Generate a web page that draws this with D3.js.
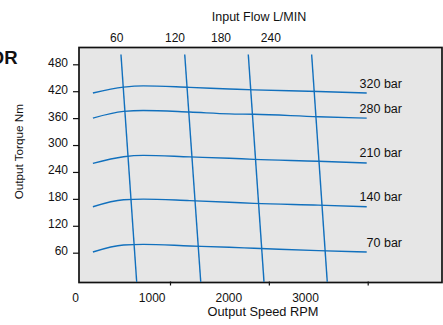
<!DOCTYPE html>
<html>
<head>
<meta charset="utf-8">
<script src="https://cdn.jsdelivr.net/npm/d3@7"></script>
<style>
  html, body { margin: 0; padding: 0; background: #fff; }
  svg { display: block; font-family: "Liberation Sans", Arial, sans-serif; }
</style>
</head>
<body>
<svg id="chart" width="443" height="325"></svg>
<script>
// ---- data ----
const speedRpm   = [220, 530, 730, 1200, 1600, 1850, 2500, 2990];
const torque320  = [416, 429, 432, 428.5, 425, 423, 419.5, 416];
const torque280  = [360, 375, 377, 373.5, 369.5, 368.5, 363, 360];
const torque210  = [259, 274, 277, 273.5, 270.5, 268, 264, 260];
const torque140  = [162.5, 178, 179.5, 176, 172.5, 170, 166, 162.5];
const torque70   = [61.5, 77, 78.5, 75, 72, 70, 64.5, 61.5];
const pressureLabels = ["320 bar", "280 bar", "210 bar", "140 bar", "70 bar"];

const flowValues     = [60, 120, 180, 240];          // L/min
const flowTopRpm     = [504, 1149, 1792, 2433];       // speed where flow line meets top
const flowBottomRpm  = [663, 1311, 1951, 2591];       // speed where flow line meets bottom
const flowTorqueSpan = [502, -5];                     // torque at top / bottom of flow lines

const yTicks      = [60, 120, 180, 240, 300, 360, 420, 480];
const xTickMarks  = [1000, 2000, 3000];
const xTickLabels = [0, 1000, 2000, 3000];
const topTickLabels = [60, 120, 180, 240];

// ---- layout ----
const svg = d3.select("#chart");
const frame = { left: 79, right: 442, top: 47.5, bottom: 282.5 };
const blue = "#1170bd";

const x = d3.scaleLinear().domain([1000, 3000]).range([170, 367.7]);
const y = d3.scaleLinear().domain([0, 480]).range([279.6, 64.3]);
const xLabel = d3.scaleLinear().domain([0, 3000]).range([75.5, 305.5]);
const topLabel = d3.scaleLinear().domain([60, 120, 180, 240]).range([116.7, 175, 221, 270.8]);

// plot frame
svg.append("rect")
  .attr("x", frame.left).attr("y", frame.top)
  .attr("width", frame.right - frame.left).attr("height", frame.bottom - frame.top)
  .attr("fill", "#e6e6e6").attr("stroke", "#111").attr("stroke-width", 1.7);

// flow lines
const flowData = flowValues.map((f, i) => ({
  flow: f,
  pts: [[flowTopRpm[i], flowTorqueSpan[0]], [flowBottomRpm[i], flowTorqueSpan[1]]]
}));
const straight = d3.line().x(d => x(d[0])).y(d => y(d[1]));
svg.append("g").selectAll("path").data(flowData).join("path")
  .attr("d", d => straight(d.pts))
  .attr("fill", "none").attr("stroke", blue).attr("stroke-width", 1.4);

// torque curves
const series = [torque320, torque280, torque210, torque140, torque70].map((t, i) => ({
  label: pressureLabels[i],
  pts: speedRpm.map((s, j) => [s, t[j]])
}));
const curve = d3.line().x(d => x(d[0])).y(d => y(d[1])).curve(d3.curveMonotoneX);
svg.append("g").selectAll("path").data(series).join("path")
  .attr("d", d => curve(d.pts))
  .attr("fill", "none").attr("stroke", blue).attr("stroke-width", 1.4);

// curve labels
svg.append("g").selectAll("text").data(series).join("text")
  .attr("x", d => x(d.pts[d.pts.length - 1][0]) + 35.3)
  .attr("y", d => y(d.pts[d.pts.length - 1][1]) - 5.5)
  .attr("text-anchor", "end")
  .attr("font-size", 12.5).attr("fill", "#111")
  .text(d => d.label);

// left axis
const yAxis = d3.axisLeft(y).tickValues(yTicks).tickSize(6).tickPadding(5);
const gy = svg.append("g").attr("transform", `translate(${frame.left},0)`).call(yAxis);
gy.select(".domain").remove();
gy.selectAll(".tick line").attr("stroke", "#111").attr("stroke-width", 1.2);
gy.selectAll(".tick text").attr("font-size", 12).attr("fill", "#111")
  .attr("font-family", "Liberation Sans, Arial, sans-serif").attr("dy", "0.16em");

// bottom axis tick marks
const xAxis = d3.axisBottom(x).tickValues(xTickMarks).tickSize(4).tickFormat("");
const gx = svg.append("g").attr("transform", `translate(0,${frame.bottom - 1})`).call(xAxis);
gx.select(".domain").remove();
gx.selectAll(".tick line").attr("stroke", "#111").attr("stroke-width", 1.2);

// bottom tick labels
svg.append("g").selectAll("text").data(xTickLabels).join("text")
  .attr("x", d => xLabel(d)).attr("y", 301.7)
  .attr("text-anchor", "middle").attr("font-size", 12).attr("fill", "#111")
  .text(d => d);

// top tick labels (flow)
svg.append("g").selectAll("text").data(topTickLabels).join("text")
  .attr("x", d => topLabel(d)).attr("y", 41.5)
  .attr("text-anchor", "middle").attr("font-size", 12).attr("fill", "#111")
  .text(d => d);

// titles
svg.append("text").attr("x", 259).attr("y", 21)
  .attr("text-anchor", "middle").attr("font-size", 12.5).attr("fill", "#111")
  .text("Input Flow L/MIN");
svg.append("text").attr("x", 263).attr("y", 316)
  .attr("text-anchor", "middle").attr("font-size", 12.8).attr("fill", "#111")
  .text("Output Speed RPM");
svg.append("text")
  .attr("transform", "translate(23,151.7) rotate(-90)")
  .attr("text-anchor", "middle").attr("font-size", 11.7).attr("fill", "#111")
  .text("Output Torque Nm");
svg.append("text").attr("x", 17.5).attr("y", 64.3)
  .attr("text-anchor", "end").attr("font-size", 18.5).attr("font-weight", "bold").attr("fill", "#111")
  .text("MOTOR");
</script>
</body>
</html>
